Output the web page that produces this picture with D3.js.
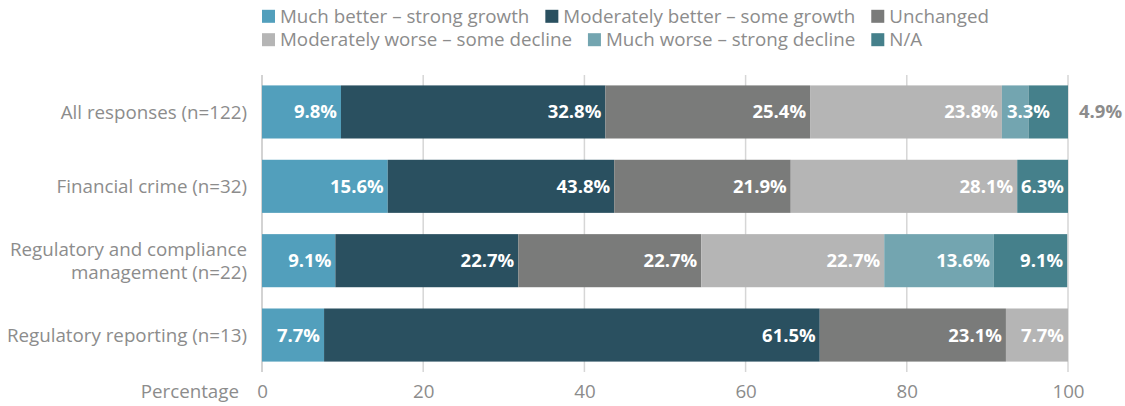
<!DOCTYPE html>
<html>
<head>
<meta charset="utf-8">
<script src="https://cdn.jsdelivr.net/npm/d3@7"></script>
<style>
  html, body { margin: 0; padding: 0; background: #fff; }
  svg { display: block; font-family: "Open Sans", sans-serif; }
</style>
</head>
<body>
<svg id="chart" width="1125" height="406"></svg>
<script>
// ---- Data ----
const categories = [
  "All responses (n=122)",
  "Financial crime (n=32)",
  "Regulatory and compliance management (n=22)",
  "Regulatory reporting (n=13)"
];
const categoryLines = [
  ["All responses (n=122)"],
  ["Financial crime (n=32)"],
  ["Regulatory and compliance", "management (n=22)"],
  ["Regulatory reporting (n=13)"]
];
const seriesNames = [
  "Much better – strong growth",
  "Moderately better – some growth",
  "Unchanged",
  "Moderately worse – some decline",
  "Much worse – strong decline",
  "N/A"
];
const muchBetter       = [9.8, 15.6, 9.1, 7.7];
const moderatelyBetter = [32.8, 28.1, 22.7, 61.5];
const unchanged        = [25.4, 21.9, 22.7, 23.1];
const moderatelyWorse  = [23.8, 28.1, 22.7, 7.7];
const muchWorse        = [3.3, 0, 13.6, 0];
const notApplicable    = [4.9, 6.3, 9.1, 0];
// label text as printed in the source (financial crime's second segment is labelled 43.8%)
const moderatelyBetterLabels = ["32.8%", "43.8%", "22.7%", "61.5%"];
const xTicks = [0, 20, 40, 60, 80, 100];
const xTitle = "Percentage";

(function () {
const seriesValues = [muchBetter, moderatelyBetter, unchanged, moderatelyWorse, muchWorse, notApplicable];
const colors = ["#529fbc", "#2a5060", "#7a7b7a", "#b5b5b5", "#73a5b0", "#45808b"];

// ---- Layout ----
const svg = d3.select("#chart");
const plotL = 262, plotR = 1068, plotT = 75, plotB = 372;
const x = d3.scaleLinear().domain([0, 100]).range([plotL, plotR]);
const y = d3.scaleBand().domain(categories).range([plotT, plotB]).paddingInner(0.286).paddingOuter(0.14);
const textGray = "#8c8c8c";
const fs = 18.75;

// grid lines
svg.append("g").selectAll("line").data(xTicks).join("line")
  .attr("x1", d => x(d)).attr("x2", d => x(d))
  .attr("y1", plotT).attr("y2", plotB)
  .attr("stroke", d => d === 0 ? "#c4c4c4" : "#d6d6d6").attr("stroke-width", 1.5);

// x axis tick labels
const xAxis = d3.axisBottom(x).tickValues(xTicks).tickSize(0).tickPadding(0);
const gx = svg.append("g").attr("transform", `translate(0,398)`).call(xAxis);
gx.select(".domain").remove();
gx.selectAll("text").attr("font-size", fs).attr("fill", textGray)
  .attr("font-family", "Open Sans").attr("dy", 0).attr("y", 0);

svg.append("text").attr("x", 239).attr("y", 398)
  .attr("text-anchor", "end").attr("font-size", fs).attr("fill", textGray).text(xTitle);

// category labels
categories.forEach((c, i) => {
  const lines = categoryLines[i];
  const cy = y(c) + y.bandwidth() / 2;
  const t = svg.append("text").attr("text-anchor", "end").attr("font-size", fs)
    .attr("fill", textGray).attr("x", 247);
  lines.forEach((ln, j) => {
    t.append("tspan").attr("x", 247)
      .attr("y", cy + (j - (lines.length - 1) / 2) * 23)
      .attr("dy", "0.35em").text(ln);
  });
});

// stacked segments
const rows = categories.map((c, i) => {
  let acc = 0;
  return seriesValues.map((vals, s) => {
    const v = vals[i];
    const seg = { cat: c, s, v, x0: acc, x1: acc + v,
      label: s === 1 ? moderatelyBetterLabels[i] : d3.format(".1f")(v) + "%" };
    acc += v;
    return seg;
  }).filter(d => d.v > 0);
});
const segs = rows.flat();

svg.append("g").selectAll("rect").data(segs).join("rect")
  .attr("x", d => x(d.x0)).attr("width", d => x(d.x1) - x(d.x0))
  .attr("y", d => y(d.cat)).attr("height", y.bandwidth())
  .attr("fill", d => colors[d.s]);

// data labels
const pad = 4;
const lg = svg.append("g");
rows.forEach(row => {
  row.forEach((d, k) => {
    const isLast = k === row.length - 1;
    const cy = y(d.cat) + y.bandwidth() / 2;
    const t = lg.append("text").attr("font-size", 18.5).attr("font-weight", 700)
      .attr("dy", "0.35em").attr("y", cy).text(d.label);
    const w = t.node().getComputedTextLength();
    const segW = x(d.x1) - x(d.x0);
    if (w + pad <= segW) {
      t.attr("x", x(d.x1) - pad).attr("text-anchor", "end").attr("fill", "#fff");
    } else if (isLast) {
      t.attr("x", x(d.x1) + 11).attr("text-anchor", "start").attr("fill", textGray);
    } else {
      t.attr("x", x(d.x0) + 5).attr("text-anchor", "start").attr("fill", "#fff");
    }
  });
});

// legend (two rows, flow layout)
const legendRows = [[0, 1, 2], [3, 4, 5]];
legendRows.forEach((items, r) => {
  let cx = 262;
  const cy = 16.3 + r * 23.4;
  items.forEach(s => {
    svg.append("rect").attr("x", cx).attr("y", cy - 6.5).attr("width", 13).attr("height", 13)
      .attr("fill", colors[s]);
    const t = svg.append("text").attr("x", cx + 18).attr("y", cy).attr("dy", "0.35em")
      .attr("font-size", fs).attr("fill", textGray).text(seriesNames[s]);
    cx += 18 + t.node().getComputedTextLength() + 16;
  });
});
})();
</script>
</body>
</html>
